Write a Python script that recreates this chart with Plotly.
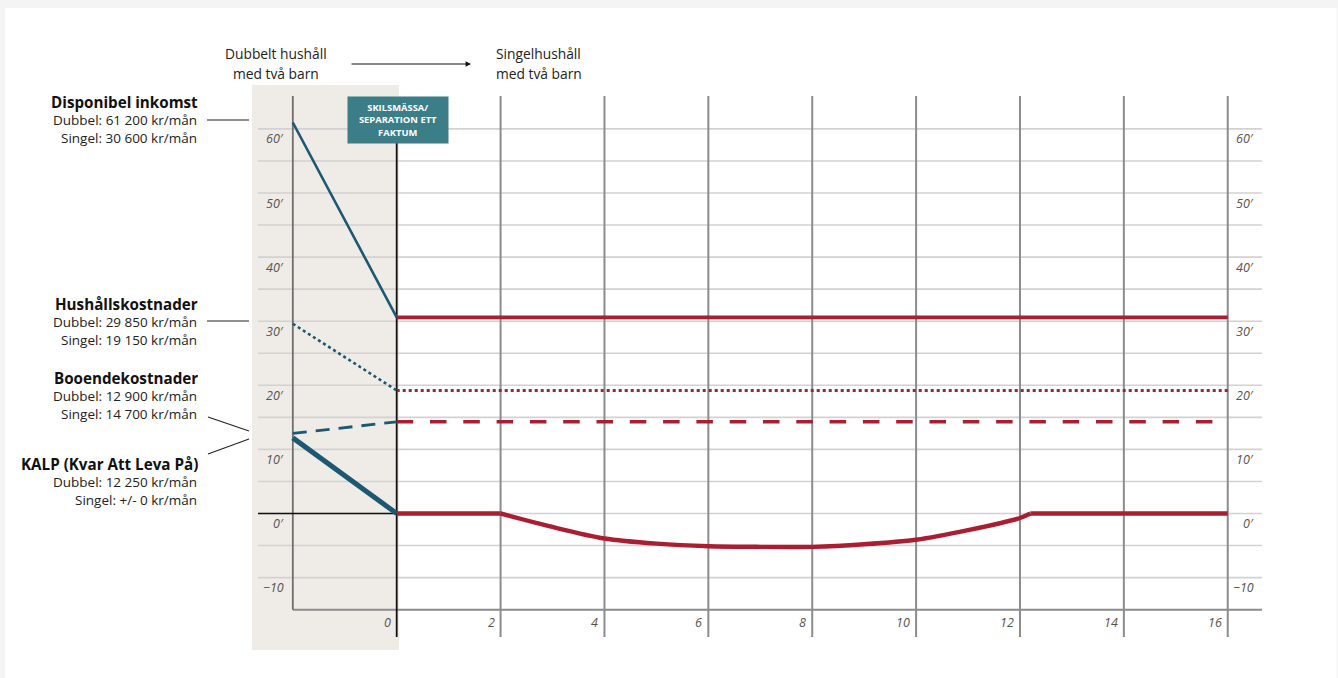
import plotly.graph_objects as go

# ---------------- data ----------------
x_before = [-2, 0]          # dubbelt hushåll -> separation
x_after = [0, 16]           # singelhushåll

disp_dubbel = [61.0, 30.6]
hush_dubbel = [29.6, 19.2]
boende_dubbel = [12.5, 14.3]
kalp_dubbel = [11.8, 0.0]

disp_singel = [30.6, 30.6]
hush_singel = [19.2, 19.2]
boende_singel = [14.3, 14.3]

kalp_x = [0, 2, 3, 4, 5, 6, 7, 8, 9, 10, 11, 12, 12.2, 16]
kalp_y = [0, 0, -2.1, -3.9, -4.7, -5.1, -5.2, -5.2, -4.8, -4.1, -2.6, -0.7, 0, 0]

x_ticks = [0, 2, 4, 6, 8, 10, 12, 14, 16]
y_ticks = [60, 50, 40, 30, 20, 10, 0, -10]
y_tick_labels = ["60′", "50′", "40′", "30′", "20′", "10′", "0′", "−10"]
y_grid = [-10, -5, 0, 5, 10, 15, 20, 25, 30, 35, 40, 45, 50, 55, 60]

series_titles = ["Disponibel inkomst", "Hushållskostnader", "Booendekostnader", "KALP (Kvar Att Leva På)"]
series_dubbel = ["Dubbel: 61 200 kr/mån", "Dubbel: 29 850 kr/mån", "Dubbel: 12 900 kr/mån", "Dubbel: 12 250 kr/mån"]
series_singel = ["Singel: 30 600 kr/mån", "Singel: 19 150 kr/mån", "Singel: 14 700 kr/mån", "Singel: +/- 0 kr/mån"]

# ---------------- styling ----------------
TEAL = "#1d5872"
RED = "#ab1d30"
BOX = "#3b7e88"
GRID = "#d2d2d2"
VGRID = "#8c8c8c"
BAND = "#efece7"
FONT = "Open Sans"

W, H = 1338, 678
X0, XS = 396.7, 51.94
Y0, YS = 513.5, 6.41


def px(p):
    return (p - X0) / XS


def py(p):
    return (Y0 - p) / YS


fig = go.Figure()

# lines before separation (teal)
fig.add_trace(go.Scatter(x=x_before, y=disp_dubbel, mode="lines",
                         line=dict(color=TEAL, width=2.6)))
fig.add_trace(go.Scatter(x=x_before, y=hush_dubbel, mode="lines",
                         line=dict(color=TEAL, width=2.6, dash="dot")))
fig.add_trace(go.Scatter(x=x_before, y=boende_dubbel, mode="lines",
                         line=dict(color=TEAL, width=2.8, dash="14px,9px")))
fig.add_trace(go.Scatter(x=x_before, y=kalp_dubbel, mode="lines",
                         line=dict(color=TEAL, width=5)))

# lines after separation (red)
fig.add_trace(go.Scatter(x=x_after, y=disp_singel, mode="lines",
                         line=dict(color=RED, width=3.8)))
fig.add_trace(go.Scatter(x=x_after, y=hush_singel, mode="lines",
                         line=dict(color=RED, width=3, dash="dot")))
fig.add_trace(go.Scatter(x=x_after, y=boende_singel, mode="lines",
                         line=dict(color=RED, width=3.5, dash="16.5px,16.8px")))
# KALP singel: flat parts straight, the dip smoothed
fig.add_trace(go.Scatter(x=kalp_x[:2], y=kalp_y[:2], mode="lines",
                         line=dict(color=RED, width=4.4)))
fig.add_trace(go.Scatter(x=kalp_x[1:13], y=kalp_y[1:13], mode="lines",
                         line=dict(color=RED, width=4.4, shape="spline", smoothing=0.8)))
fig.add_trace(go.Scatter(x=kalp_x[12:], y=kalp_y[12:], mode="lines",
                         line=dict(color=RED, width=4.4)))

shapes = []
# card background
shapes.append(dict(type="rect", xref="paper", yref="paper", x0=5 / W, x1=1336.5 / W,
                   y0=0, y1=1 - 8 / H, fillcolor="white", line=dict(width=0), layer="below"))
# shaded "before" band
shapes.append(dict(type="rect", x0=px(252), x1=px(399), y0=py(650), y1=py(85),
                   fillcolor=BAND, line=dict(width=0), layer="below"))
# horizontal grid
for g in y_grid:
    shapes.append(dict(type="line", x0=px(258), x1=px(1262), y0=g, y1=g,
                       line=dict(color=GRID, width=1.6), layer="below"))
# bottom axis line
shapes.append(dict(type="line", x0=-2, x1=px(1262), y0=-15, y1=-15,
                   line=dict(color=VGRID, width=2), layer="below"))
# vertical grid
shapes.append(dict(type="line", x0=-2, x1=-2, y0=-15, y1=py(96),
                   line=dict(color="#6f6f6f", width=1.8), layer="below"))
for t in x_ticks[1:]:
    shapes.append(dict(type="line", x0=t, x1=t, y0=py(637), y1=py(96),
                       line=dict(color=VGRID, width=2), layer="below"))
# black zero lines
shapes.append(dict(type="line", x0=0, x1=0, y0=py(637), y1=py(120),
                   line=dict(color="#111111", width=1.8), layer="below"))
shapes.append(dict(type="line", x0=px(258), x1=0, y0=0, y1=0,
                   line=dict(color="#111111", width=1.5), layer="below"))
# connector lines from the left labels
shapes.append(dict(type="line", x0=px(207), x1=px(249), y0=py(120), y1=py(120),
                   line=dict(color="#222222", width=1.1)))
shapes.append(dict(type="line", x0=px(207), x1=px(249), y0=py(321), y1=py(321),
                   line=dict(color="#222222", width=1.1)))
shapes.append(dict(type="line", x0=px(208), x1=px(249), y0=py(417), y1=py(431),
                   line=dict(color="#222222", width=1.1)))
shapes.append(dict(type="line", x0=px(208), x1=px(249), y0=py(454), y1=py(439),
                   line=dict(color="#222222", width=1.1)))

annotations = []
tick_font = dict(family=FONT, size=12.5, color="#555555")
for v, lab in zip(y_ticks, y_tick_labels):
    yy = py(Y0 - v * YS + 10)
    annotations.append(dict(x=px(286), y=yy, text="<i>" + lab + "</i>", showarrow=False,
                            xanchor="right", yanchor="middle", font=tick_font))
    annotations.append(dict(x=px(1256), y=yy, text="<i>" + lab + "</i>", showarrow=False,
                            xanchor="right", yanchor="middle", font=tick_font))
for t in x_ticks:
    annotations.append(dict(x=t + px(393) - px(397), y=py(622), text="<i>" + str(t) + "</i>",
                            showarrow=False, xanchor="right", yanchor="middle", font=tick_font))

# left series labels
title_y = [102, 304, 378, 464]
for ttl, d, s, ty in zip(series_titles, series_dubbel, series_singel, title_y):
    annotations.append(dict(x=px(200), y=py(ty), text="<b>" + ttl + "</b>", showarrow=False,
                            xanchor="right", yanchor="middle",
                            font=dict(family=FONT, size=15.2, color="#111111")))
    annotations.append(dict(x=px(199), y=py(ty + 18), text=d, showarrow=False,
                            xanchor="right", yanchor="middle",
                            font=dict(family=FONT, size=13.5, color="#222222")))
    annotations.append(dict(x=px(199), y=py(ty + 36), text=s, showarrow=False,
                            xanchor="right", yanchor="middle",
                            font=dict(family=FONT, size=13.5, color="#222222")))

# header texts
hdr_font = dict(family=FONT, size=13.8, color="#222222")
annotations.append(dict(x=px(276), y=py(53), text="Dubbelt hushåll", showarrow=False,
                        xanchor="center", yanchor="middle", font=hdr_font))
annotations.append(dict(x=px(276), y=py(73), text="med två barn", showarrow=False,
                        xanchor="center", yanchor="middle", font=hdr_font))
annotations.append(dict(x=px(494), y=py(53), text="Singelhushåll", showarrow=False,
                        xanchor="left", yanchor="middle", font=hdr_font))
annotations.append(dict(x=px(494), y=py(73), text="med två barn", showarrow=False,
                        xanchor="left", yanchor="middle", font=hdr_font))
# arrow
annotations.append(dict(x=px(471), y=py(64), ax=px(350), ay=py(64), xref="x", yref="y",
                        axref="x", ayref="y", text="", showarrow=True, arrowhead=2,
                        arrowsize=0.9, arrowwidth=1.2, arrowcolor="#111111"))
# separation box
annotations.append(dict(x=px(398), y=py(120), text="<b>SKILSMÄSSA/<br>SEPARATION ETT<br>FAKTUM</b>",
                        showarrow=False, xanchor="center", yanchor="middle",
                        width=100, height=46, borderpad=0, bgcolor=BOX,
                        font=dict(family=FONT, size=9.4, color="white")))

fig.update_layout(
    width=W, height=H,
    margin=dict(l=0, r=0, t=0, b=0),
    paper_bgcolor="#f4f4f4",
    plot_bgcolor="rgba(0,0,0,0)",
    showlegend=False,
    xaxis=dict(range=[px(0), px(W)], visible=False, fixedrange=True),
    yaxis=dict(range=[py(H), py(0)], visible=False, fixedrange=True),
    shapes=shapes,
    annotations=annotations,
    font=dict(family=FONT),
)

fig.write_html("out.html", config={"displayModeBar": False},
               post_script="document.body.style.margin='0';document.body.style.overflow='hidden';")
